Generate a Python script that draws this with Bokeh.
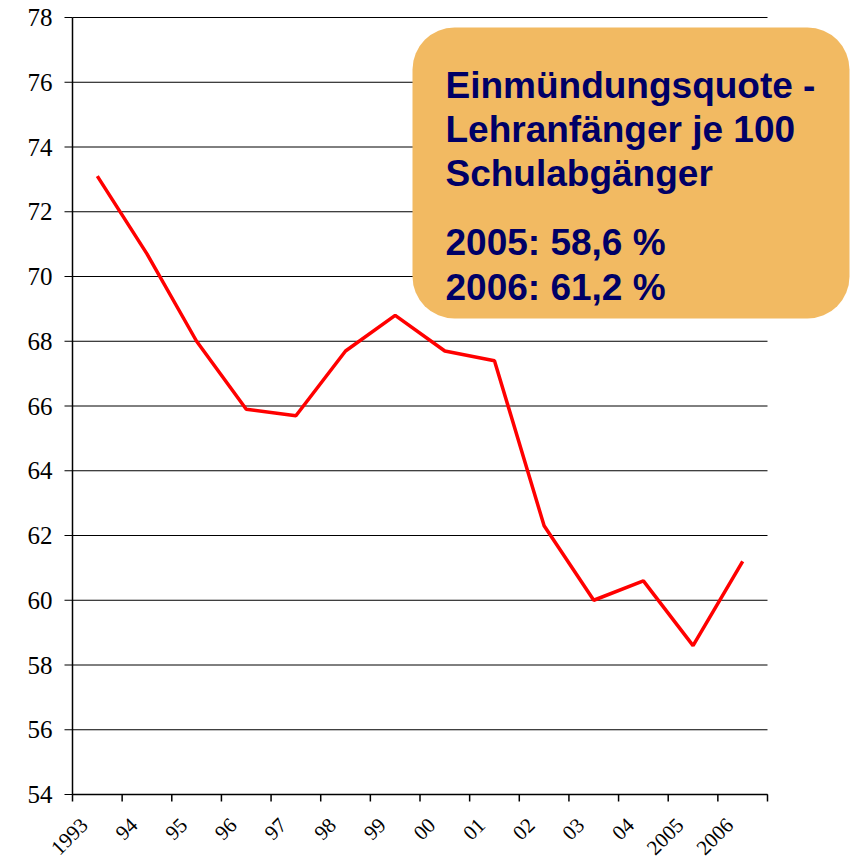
import math
from bokeh.plotting import figure
from bokeh.models import BoxAnnotation, Label, Range1d
from bokeh.embed import file_html
from bokeh.resources import INLINE

# ---- data ----
years = ["1993", "94", "95", "96", "97", "98", "99", "00", "01", "02", "03", "04", "2005", "2006"]
quote = [73.1, 70.7, 68.0, 65.9, 65.7, 67.7, 68.8, 67.7, 67.4, 62.3, 60.0, 60.6, 58.6, 61.2]
y_ticks = [54, 56, 58, 60, 62, 64, 66, 68, 70, 72, 74, 76, 78]
y_tick_labels = ["54", "56", "58", "60", "62", "64", "66", "68", "70", "72", "74", "76", "78"]
box_title = ["Einmündungsquote -", "Lehranfänger je 100", "Schulabgänger"]
box_values = ["2005: 58,6 %", "2006: 61,2 %"]

FONT = "Liberation Sans"
NAVY = "#000066"

# ---- layout (pixels) ----
W, H = 850, 859
LEFT, TOP = 72, 17            # top-left corner of the gridded area
PLOT_W, PLOT_H = 695, 777     # size of the gridded area

n = len(years)
centers = [i + 0.5 for i in range(n)]
bounds = list(range(n + 1))
y0, y1 = y_ticks[0], y_ticks[-1]
xpp = n / PLOT_W
ypp = (y1 - y0) / PLOT_H

p = figure(width=W, height=H, output_backend="svg", toolbar_location=None,
           x_axis_location=None, y_axis_location=None,
           x_range=Range1d(-LEFT * xpp, (W - LEFT) * xpp),
           y_range=Range1d(y0 - (H - TOP - PLOT_H) * ypp, y1 + TOP * ypp),
           min_border_left=0, min_border_right=0, min_border_top=0, min_border_bottom=0)
p.outline_line_color = None
p.background_fill_color = "white"
p.border_fill_color = "white"
p.grid.visible = False

# horizontal grid lines
m = len(y_ticks)
p.segment(x0=[0] * m, y0=y_ticks, x1=[n] * m, y1=y_ticks, line_color="black", line_width=1)

# value axis: line, ticks, labels
p.segment(x0=[0], y0=[y0], x1=[0], y1=[y1], line_color="black", line_width=1.5)
p.ray(x=[0] * m, y=y_ticks, length=8, length_units="screen", angle=math.pi,
      line_color="black", line_width=1.2)
p.text(x=[0] * m, y=y_ticks, text=y_tick_labels, text_align="right", text_baseline="middle",
       x_offset=-20, y_offset=0, text_font=FONT, text_font_size="25px", text_color="black")

# category axis: line, boundary ticks, rotated labels
p.segment(x0=[0], y0=[y0], x1=[n], y1=[y0], line_color="black", line_width=1.5)
p.ray(x=bounds, y=[y0] * len(bounds), length=7, length_units="screen",
      angle=-math.pi / 2, line_color="black", line_width=1.5)
p.text(x=centers, y=[y0] * n, text=years, angle=math.pi / 4,
       text_align="right", text_baseline="middle",
       x_offset=-13, y_offset=27,
       text_font=FONT, text_font_size="21px", text_color="black")

# series line
p.line(centers, quote, line_color="#FF0000", line_width=3.5)

# info box
box = BoxAnnotation(left=412, right=849, top=27, bottom=318,
                    left_units="canvas", right_units="canvas",
                    top_units="canvas", bottom_units="canvas",
                    fill_color="#F2BA62", fill_alpha=1.0, line_color=None,
                    border_radius=42)
p.add_layout(box)

lines = box_title + box_values
baselines = [85, 129, 173, 242, 287]
for t, yb in zip(lines, baselines):
    p.add_layout(Label(x=445, y=yb, x_units="canvas", y_units="canvas", text=t,
                       text_font=FONT, text_font_style="bold", text_font_size="37px",
                       text_color=NAVY, text_baseline="alphabetic", text_align="left"))

open("out.html", "w").write(file_html(p, INLINE))
